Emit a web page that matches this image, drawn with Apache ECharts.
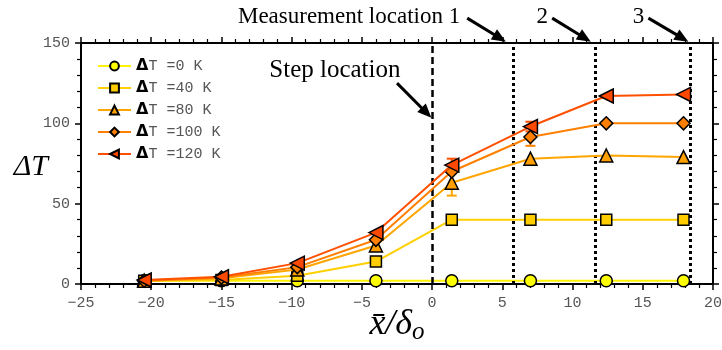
<!DOCTYPE html>
<html><head><meta charset="utf-8">
<script src="https://cdn.jsdelivr.net/npm/echarts@6/dist/echarts.min.js"></script>
<style>html,body{margin:0;padding:0;background:#fff}#c{width:722px;height:350px}</style>
</head><body><div id="c"></div>
<script>
// ---- data ----
var xPos = [-20.5, -15, -9.6, -4, 1.4, 7, 12.4, 17.9];
var seriesNames = ['ΔT =0 K', 'ΔT =40 K', 'ΔT =80 K', 'ΔT =100 K', 'ΔT =120 K'];
var dT0   = [2, 2, 2, 2, 2, 2, 2, 2];
var dT40  = [2, 2.5, 5.2, 14, 40, 40, 40, 40];
var dT80  = [2, 3.5, 9, 24, 63, 78, 80, 79];
var dT100 = [2, 4, 10.5, 27.5, 70, 91.5, 100, 100];
var dT120 = [2.5, 4.5, 13, 32, 74, 98, 117, 118];
// error bars: [seriesIndex, x, low, high]
var errSeries = [2, 4, 3, 4];
var errX      = [1.4, 1.4, 7, 7];
var errLow    = [55, 70, 86, 95];
var errHigh   = [71, 78, 97, 101];
var stepX = [0];
var measureX = [5.75, 11.6, 18.4];
var xTicks = {min: -25, max: 20, interval: 5};
var yTicks = {min: 0, max: 150, interval: 50};

var lineColors = ['#FFF200', '#FFD000', '#FFA500', '#FF8000', '#FF5000'];
var fillColors = ['#FFFF00', '#FFCC00', '#FFA000', '#FF7F00', '#FF4800'];
var symbols = ['circle', 'rect', 'triangle', 'diamond', 'triangle'];
var symSizes = [12, 11, 13, 13, 14];
var symRot = [0, 0, 0, 0, 90];
var allY = [dT0, dT40, dT80, dT100, dT120];

var chart = echarts.init(document.getElementById('c'), null, {renderer: 'canvas'});
var minus = function (v) { return String(v).replace('-', '\u2212'); };
var tickFont = {color: '#555', fontFamily: 'Liberation Mono', fontSize: 15};

var series = allY.map(function (ys, i) {
  return {
    type: 'line', name: seriesNames[i], xAxisIndex: 0, yAxisIndex: 0,
    data: xPos.map(function (x, j) { return [x, ys[j]]; }),
    symbol: symbols[i], symbolSize: symSizes[i], symbolRotate: symRot[i],
    showAllSymbol: true,
    lineStyle: {color: lineColors[i], width: 2},
    itemStyle: {color: fillColors[i], borderColor: '#000', borderWidth: 1.5},
    emphasis: {disabled: true}, z: 3 + i
  };
});
series[0].markLine = {
  silent: true, symbol: ['none', 'none'], label: {show: false}, animation: false,
  data: stepX.map(function (x) { return {xAxis: x, lineStyle: {color: '#000', width: 2.5, type: [7, 4]}}; })
    .concat(measureX.map(function (x) { return {xAxis: x, lineStyle: {color: '#000', width: 3, type: [3, 3]}}; }))
};
series.push({
  type: 'custom', name: 'err', xAxisIndex: 0, yAxisIndex: 0, z: 2,
  data: errX.map(function (x, k) { return [x, errLow[k], errHigh[k], errSeries[k]]; }),
  renderItem: function (params, api) {
    var lo = api.coord([api.value(0), api.value(1)]);
    var hi = api.coord([api.value(0), api.value(2)]);
    var c = lineColors[api.value(3)];
    var w = 5;
    var st = {stroke: c, lineWidth: 2};
    return {type: 'group', children: [
      {type: 'line', shape: {x1: lo[0], y1: lo[1], x2: hi[0], y2: hi[1]}, style: st},
      {type: 'line', shape: {x1: lo[0] - w, y1: lo[1], x2: lo[0] + w, y2: lo[1]}, style: st},
      {type: 'line', shape: {x1: hi[0] - w, y1: hi[1], x2: hi[0] + w, y2: hi[1]}, style: st}
    ]};
  }
});

var axisLine = {show: true, onZero: false, lineStyle: {color: '#000', width: 2}};
var option = {
  animation: false,
  backgroundColor: '#fff',
  grid: {left: 81, right: 9, top: 43, bottom: 66, containLabel: false, outerBoundsMode: 'none'},
  legend: {
    data: seriesNames, left: 97, top: 58, orient: 'vertical', padding: 0,
    itemWidth: 33, itemHeight: 11, itemGap: 6,
    formatter: function (n) { return '{d|\u0394}{m|' + n.slice(1) + '}'; },
    textStyle: {lineHeight: 16, rich: {
      d: {fontFamily: 'DejaVu Sans', fontWeight: 'bold', fontSize: 16, color: '#000', lineHeight: 16},
      m: {fontFamily: 'Liberation Mono', fontSize: 15, color: '#555', lineHeight: 16}
    }}
  },
  xAxis: [{
    type: 'value', min: xTicks.min, max: xTicks.max, interval: xTicks.interval,
    position: 'bottom', axisLine: axisLine,
    axisTick: {show: true, inside: false, length: 6, lineStyle: {color: '#000', width: 1.5}},
    minorTick: {show: true, splitNumber: 5, length: 4, lineStyle: {color: '#000', width: 1.2}},
    splitLine: {show: false},
    axisLabel: Object.assign({margin: 12, formatter: minus}, tickFont)
  }, {
    type: 'value', min: xTicks.min, max: xTicks.max, interval: xTicks.interval,
    position: 'top', axisLine: axisLine,
    axisTick: {show: true, length: 6, lineStyle: {color: '#000', width: 1.5}},
    minorTick: {show: true, splitNumber: 5, length: 4, lineStyle: {color: '#000', width: 1.2}},
    splitLine: {show: false}, axisLabel: {show: false}
  }],
  yAxis: [{
    type: 'value', min: yTicks.min, max: yTicks.max, interval: yTicks.interval,
    position: 'left', axisLine: axisLine,
    axisTick: {show: true, length: 6, lineStyle: {color: '#000', width: 1.5}},
    minorTick: {show: true, splitNumber: 5, length: 4, lineStyle: {color: '#000', width: 1.2}},
    splitLine: {show: false},
    axisLabel: Object.assign({margin: 11}, tickFont)
  }, {
    type: 'value', min: yTicks.min, max: yTicks.max, interval: yTicks.interval,
    position: 'right', axisLine: axisLine,
    axisTick: {show: true, length: 6, lineStyle: {color: '#000', width: 1.5}},
    minorTick: {show: true, splitNumber: 5, length: 4, lineStyle: {color: '#000', width: 1.2}},
    splitLine: {show: false}, axisLabel: {show: false}
  }],
  series: series
};
chart.setOption(option);

// ---- annotations (data coordinates) ----
var arrows = [
  {from: [2.5, 165.5], to: [5.25, 150.8]},
  {from: [8.55, 165.5], to: [11.3, 150.8]},
  {from: [15.4, 165.5], to: [18.25, 150.8]},
  {from: [-2.5, 125], to: [-0.05, 103.5]}
];
var labels = [
  {text: 'Measurement location 1', at: [2.0, 166.5], size: 23, italic: false},
  {text: '2', at: [8.25, 166.5], size: 23, italic: false},
  {text: '3', at: [15.1, 166.5], size: 23, italic: false},
  {text: 'Step location', at: [-2.25, 133], size: 25, italic: false},
  {text: '\u0394T', at: [-27.35, 73], size: 30, italic: true}
];
var g = [];
arrows.forEach(function (a) {
  var p0 = chart.convertToPixel({gridIndex: 0}, a.from);
  var p1 = chart.convertToPixel({gridIndex: 0}, a.to);
  var dx = p1[0] - p0[0], dy = p1[1] - p0[1], L = Math.sqrt(dx * dx + dy * dy);
  var ux = dx / L, uy = dy / L, hl = 14, hw = 6;
  var bx = p1[0] - ux * hl, by = p1[1] - uy * hl;
  g.push({type: 'line', shape: {x1: p0[0], y1: p0[1], x2: bx + ux * 2, y2: by + uy * 2}, style: {stroke: '#000', lineWidth: 3}, z: 100});
  g.push({type: 'polygon', shape: {points: [[p1[0], p1[1]], [bx - uy * hw, by + ux * hw], [bx + uy * hw, by - ux * hw]]}, style: {fill: '#000'}, z: 100});
});
labels.forEach(function (l) {
  var p = chart.convertToPixel({gridIndex: 0}, l.at);
  g.push({type: 'text', x: p[0], y: p[1], style: {text: l.text, fill: '#000', font: (l.italic ? 'italic ' : '') + l.size + 'px "Liberation Serif"', align: 'right', verticalAlign: 'middle'}, z: 100});
});
// x-axis title, centred under the axis
var axMid = chart.convertToPixel({gridIndex: 0}, [(xTicks.min + xTicks.max) / 2, yTicks.min]);
g.push({type: 'text', x: axMid[0], y: axMid[1] + 41, z: 100, style: {
  text: '{i|x\u0304/\u03B4}{s|o}', align: 'center', verticalAlign: 'middle',
  rich: {
    i: {fontFamily: 'Liberation Serif', fontStyle: 'italic', fontSize: 36, fill: '#000'},
    s: {fontFamily: 'Liberation Serif', fontStyle: 'italic', fontSize: 25, fill: '#000', padding: [14, 0, 0, 0]}
  }
}});
chart.setOption({graphic: g});
</script></body></html>
